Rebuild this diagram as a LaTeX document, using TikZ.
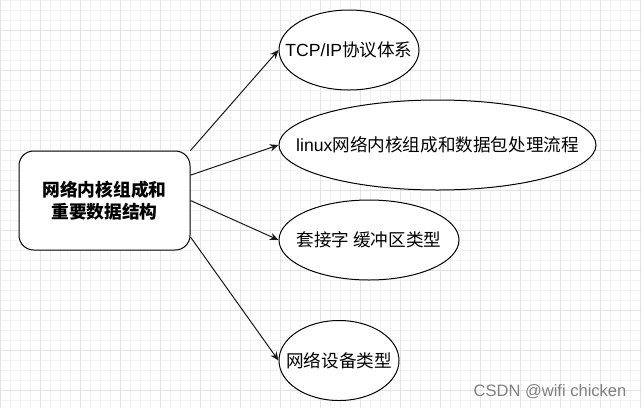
\documentclass[tikz,border=0pt]{standalone}
\usepackage{fontspec}
\setmainfont{Liberation Sans}
\newfontfamily\cjk{Noto Sans CJK SC}
\newfontfamily\latf{Liberation Sans}
\usetikzlibrary{arrows.meta,shapes.geometric}
\begin{document}
\begin{tikzpicture}[x=0.75pt,y=-0.75pt,
  minorgrid/.style={draw=black!5,line width=0.75pt},
  majorgrid/.style={draw=black!11,line width=0.75pt},
  oval/.style={ellipse,draw=black,line width=0.75pt,fill=white,inner sep=0pt},
  ovaltext/.style={inner sep=0pt,font=\cjk\fontsize{13.2pt}{15pt}\selectfont},
  titlebox/.style={rectangle,rounded corners=11pt,draw=black,line width=0.75pt,fill=white,align=center,minimum width=128.25pt,minimum height=74.25pt,font=\cjk\bfseries\fontsize{13.3pt}{16.5pt}\selectfont},
  link/.style={draw=black!90,line width=0.75pt,-{Stealth[length=6.5pt,width=5.5pt]}}]
\useasboundingbox (0,0) rectangle (642,408);
\fill[white] (0,0) rectangle (642,408);
\foreach \x in {0,10,...,640} \draw[minorgrid] (\x,0) -- (\x,408);
\foreach \y in {0,10,...,400} \draw[minorgrid] (0,\y) -- (642,\y);
\foreach \x in {0,40,...,640} \draw[majorgrid] (\x,0) -- (\x,408);
\foreach \y in {30,70,...,390} \draw[majorgrid] (0,\y) -- (642,\y);

\node[titlebox] (t) at (104.5,200.5) {网络内核组成和\\重要数据结构};
\node[oval,minimum width=105pt,minimum height=60pt] (e1) at (349,50) {};
\node[oval,minimum width=237.75pt,minimum height=67.5pt] (e2) at (437.5,145) {};
\node[oval,minimum width=135pt,minimum height=60pt] (e3) at (369,240) {};
\node[oval,minimum width=90pt,minimum height=60pt] (e4) at (339,360.5) {};
\node[ovaltext] (e1t) at (e1.center) {{\latf TCP/IP}协议体系};
\node[ovaltext] (e2t) at (e2.center) {{\latf linux}网络内核组成和数据包处理流程};
\node[ovaltext] (e3t) at (e3.center) {套接字 缓冲区类型};
\node[ovaltext] (e4t) at (e4.center) {网络设备类型};

\draw[link] (t.north east) -- (e1.west);
\draw[link] ([yshift=19pt]t.east) -- (e2.west);
\draw[link] (t.east) -- (e3.west);
\draw[link] ([yshift=-27.4pt]t.east) -- (e4.west);

\node[font=\latf\fontsize{12.4pt}{14pt}\selectfont,text=black!50,inner sep=0pt] (wm) at (550,392) {CSDN @wifi chicken};
\end{tikzpicture}
\end{document}
